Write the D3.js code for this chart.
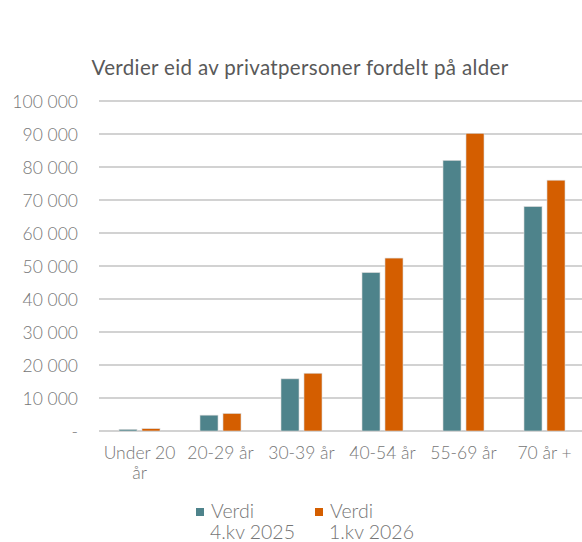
<!DOCTYPE html>
<html>
<head>
<meta charset="utf-8">
<script src="https://cdn.jsdelivr.net/npm/d3@7"></script>
<style>
  body { margin: 0; background: #fff; }
  svg text { font-family: Lato, "Open Sans", sans-serif; }
</style>
</head>
<body>
<svg id="chart" width="582" height="542"></svg>
<script>
'use strict';

var categories = ['Under 20 år', '20-29 år', '30-39 år', '40-54 år', '55-69 år', '70 år +'];
var categoryLines = [['Under 20', 'år'], ['20-29 år'], ['30-39 år'], ['40-54 år'], ['55-69 år'], ['70 år +']];
var seriesNames = ['Verdi 4.kv 2025', 'Verdi 1.kv 2026'];
var seriesLines = [['Verdi', '4.kv 2025'], ['Verdi', '1.kv 2026']];
var values2025 = [500, 4800, 15800, 48000, 82000, 68000];
var values2026 = [700, 5300, 17500, 52400, 90200, 76000];
var yTicks = [0, 10000, 20000, 30000, 40000, 50000, 60000, 70000, 80000, 90000, 100000];
var colors = ['#4e838b', '#d45e00'];

var svg = d3.select('#chart');

var margins = { left: 99, right: -3, top: 101, bottom: 111 };
var width = 582 - margins.left - margins.right;
var height = 542 - margins.top - margins.bottom;

var g = svg.append('g').attr('transform', 'translate(' + margins.left + ',' + margins.top + ')');

var x = d3.scaleBand().domain(categories).range([0, width]).padding(0);
var xSub = d3.scaleBand().domain(seriesNames).range([20, x.bandwidth() - 20]).paddingInner(0.217).paddingOuter(0);
var y = d3.scaleLinear().domain([0, 100000]).range([height, 0]);

var locale = d3.formatLocale({ decimal: ',', thousands: '\u00a0', grouping: [3], currency: ['', ' kr'] });
var fmt = locale.format(',d');

// gridlines
g.selectAll('line.grid').data(yTicks).enter().append('line')
  .attr('class', 'grid')
  .attr('x1', 0).attr('x2', width + 3)
  .attr('y1', function (d) { return y(d); })
  .attr('y2', function (d) { return y(d); })
  .attr('stroke', '#c3c3c3')
  .attr('stroke-width', 1.5);

// y labels
var yAxis = d3.axisLeft(y).tickValues(yTicks).tickSize(0).tickPadding(21)
  .tickFormat(function (d) { return d === 0 ? '-' : fmt(d); });
var yG = g.append('g').call(yAxis);
yG.select('.domain').remove();
yG.selectAll('text').attr('fill', '#767676').style('font-size', '17.5px').style('font-weight', 300).attr('dy', '0.36em');

// bars
var data = categories.map(function (c, i) {
  return { cat: c, vals: [values2025[i], values2026[i]] };
});

var groups = g.selectAll('g.cat').data(data).enter().append('g')
  .attr('class', 'cat')
  .attr('transform', function (d) { return 'translate(' + x(d.cat) + ',0)'; });

groups.selectAll('rect').data(function (d) {
  return d.vals.map(function (v, i) { return { s: seriesNames[i], v: v, i: i }; });
}).enter().append('rect')
  .attr('x', function (d) { return xSub(d.s); })
  .attr('width', xSub.bandwidth())
  .attr('y', function (d) { return y(d.v); })
  .attr('height', function (d) { return y(0) - y(d.v); })
  .attr('fill', function (d) { return colors[d.i]; })
  .attr('stroke', '#d9d9d9')
  .attr('stroke-width', 0.6);

// x labels
var xLab = g.selectAll('text.xlab').data(categories).enter().append('text')
  .attr('class', 'xlab')
  .attr('text-anchor', 'middle')
  .attr('fill', '#767676')
  .style('font-size', '17.5px')
  .style('font-weight', 300)
  .attr('transform', function (d) { return 'translate(' + (x(d) + x.bandwidth() / 2) + ',' + (height + 28) + ')'; });

xLab.selectAll('tspan').data(function (d, i) { return categoryLines[i]; }).enter().append('tspan')
  .attr('x', 0)
  .attr('dy', function (d, i) { return i === 0 ? 0 : '1.15em'; })
  .text(function (d) { return d; });

// title
svg.append('text')
  .attr('x', 300).attr('y', 75)
  .attr('text-anchor', 'middle')
  .attr('fill', '#595959')
  .style('font-size', '20.5px')
  .style('letter-spacing', '0.35px')
  .text('Verdier eid av privatpersoner fordelt på alder');

// legend
var legendX = [196, 315];
var legend = svg.selectAll('g.legend').data(seriesNames).enter().append('g')
  .attr('class', 'legend')
  .attr('transform', function (d, i) { return 'translate(' + legendX[i] + ',0)'; });

legend.append('rect')
  .attr('x', 0).attr('y', 508)
  .attr('width', 8).attr('height', 8)
  .attr('fill', function (d, i) { return colors[i]; });

var legText = legend.append('text')
  .attr('fill', '#767676')
  .style('font-size', '19.5px')
  .style('font-weight', 300);

legText.selectAll('tspan').data(function (d, i) { return seriesLines[i]; }).enter().append('tspan')
  .attr('x', function (d, i) { return i === 0 ? 15 : 14; })
  .attr('y', function (d, i) { return i === 0 ? 518 : 539; })
  .text(function (d) { return d; });
</script>
</body>
</html>
